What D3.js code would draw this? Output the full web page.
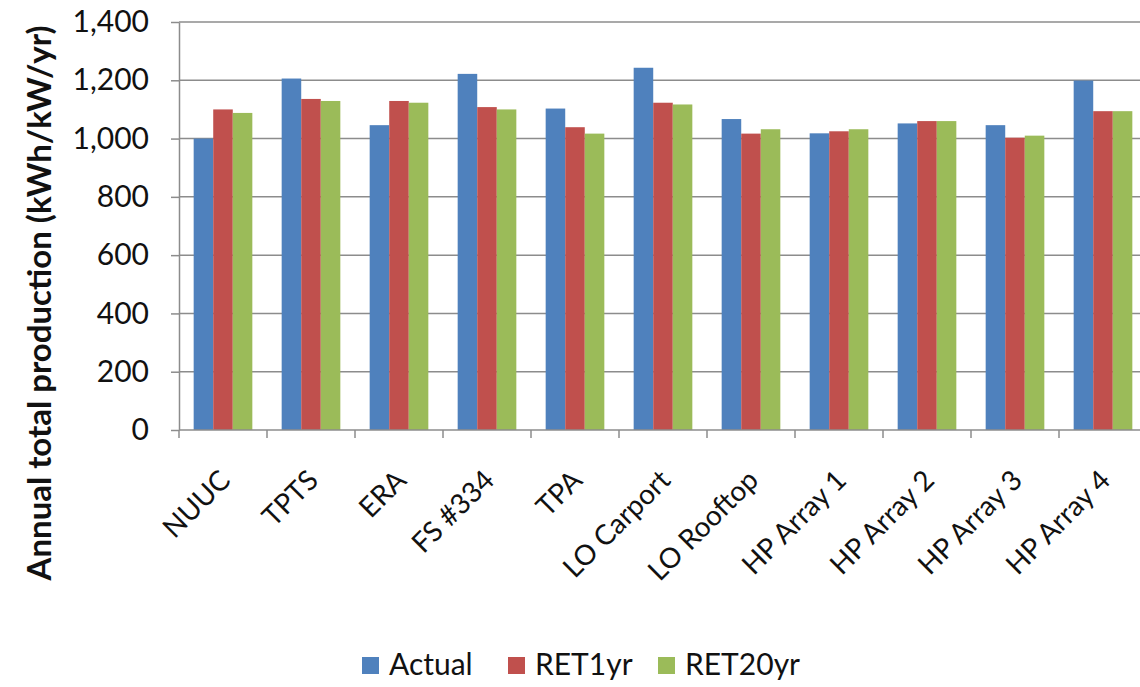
<!DOCTYPE html>
<html>
<head>
<meta charset="utf-8">
<script src="https://cdn.jsdelivr.net/npm/d3@7"></script>
<style>
  html, body { margin: 0; padding: 0; background: #fff; }
  svg { display: block; }
  text { font-family: Lato, "Open Sans", sans-serif; fill: #111; }
</style>
</head>
<body>
<svg id="chart" width="1140" height="687"></svg>
<script>
// Annual total production per PV site, measured vs. modelled
const sites = ["NUUC", "TPTS", "ERA", "FS #334", "TPA", "LO Carport", "LO Rooftop",
               "HP Array 1", "HP Array 2", "HP Array 3", "HP Array 4"];
const actual  = [1000, 1206, 1046, 1222, 1103, 1243, 1067, 1018, 1052, 1046, 1199];
const ret1yr  = [1100, 1136, 1129, 1108, 1039, 1123, 1017, 1025, 1060, 1003, 1094];
const ret20yr = [1088, 1129, 1123, 1100, 1017, 1117, 1032, 1032, 1060, 1010, 1094];
const seriesNames = ["Actual", "RET1yr", "RET20yr"];
const seriesColors = ["#4F81BD", "#C0504D", "#9BBB59"];
const yTicks = [0, 200, 400, 600, 800, 1000, 1200, 1400];

const series = [actual, ret1yr, ret20yr];
const svg = d3.select("#chart");

const left = 179, step = 88;
const x = d3.scaleBand().domain(sites).range([left, left + step * sites.length]).paddingInner(0).paddingOuter(0);
const y = d3.scaleLinear().domain([0, 1400]).range([430, 22]);
const xs = d3.scaleBand().domain(seriesNames).range([0, x.bandwidth()]).paddingInner(0).paddingOuter(0.75);

// horizontal gridlines
svg.append("g")
  .selectAll("line")
  .data(yTicks.filter(d => d > 0))
  .join("line")
  .attr("x1", left).attr("x2", 1140)
  .attr("y1", d => y(d)).attr("y2", d => y(d))
  .attr("stroke", "#8c8c8c").attr("stroke-width", 1.5);

// bars
const groups = svg.append("g")
  .selectAll("g")
  .data(sites)
  .join("g")
  .attr("transform", d => `translate(${x(d)},0)`);

groups.selectAll("rect")
  .data((d, i) => series.map((s, k) => ({ key: seriesNames[k], value: s[i], k })))
  .join("rect")
  .attr("x", d => xs(d.key))
  .attr("width", xs.bandwidth())
  .attr("y", d => y(d.value))
  .attr("height", d => y(0) - y(d.value))
  .attr("fill", d => seriesColors[d.k]);

// y axis
const yAxis = svg.append("g")
  .attr("transform", `translate(${left},0)`)
  .call(d3.axisLeft(y).tickValues(yTicks).tickFormat(d3.format(",")).tickSize(8).tickSizeOuter(0).tickPadding(22));
yAxis.select(".domain").attr("stroke", "#8c8c8c").attr("stroke-width", 1.5);
yAxis.selectAll(".tick line").attr("stroke", "#8c8c8c").attr("stroke-width", 1.5);
yAxis.selectAll(".tick text").attr("font-size", 30).attr("font-family", "Lato, sans-serif").attr("fill", "#111");

// x axis line and category divider ticks
const xAxisG = svg.append("g");
xAxisG.append("line")
  .attr("x1", left).attr("x2", 1140)
  .attr("y1", y(0)).attr("y2", y(0))
  .attr("stroke", "#8c8c8c").attr("stroke-width", 1.5);
xAxisG.selectAll("line.div")
  .data(sites.map((d, i) => i))
  .join("line")
  .attr("class", "div")
  .attr("x1", i => left + i * x.step()).attr("x2", i => left + i * x.step())
  .attr("y1", y(0)).attr("y2", y(0) + 8)
  .attr("stroke", "#8c8c8c").attr("stroke-width", 1.5);

// rotated category labels
svg.append("g")
  .selectAll("text")
  .data(sites)
  .join("text")
  .attr("text-anchor", "end")
  .attr("font-size", 28)
  .attr("transform", d => `translate(${x(d) + x.bandwidth() / 2 + 9},${y(0) + 52}) rotate(-45)`)
  .text(d => d);

// y axis title
svg.append("text")
  .attr("transform", `translate(51,303) rotate(-90)`)
  .attr("text-anchor", "middle")
  .attr("font-size", 33)
  .attr("font-weight", "bold")
  .text("Annual total production (kWh/kW/yr)");

// legend
const legendX = [362, 508, 658];
const legend = svg.append("g").selectAll("g")
  .data(seriesNames)
  .join("g")
  .attr("transform", (d, i) => `translate(${legendX[i]},657)`);
legend.append("rect").attr("width", 17).attr("height", 17).attr("fill", (d, i) => seriesColors[i]);
legend.append("text").attr("x", 27).attr("y", 18).attr("font-size", 30).text(d => d);
</script>
</body>
</html>
